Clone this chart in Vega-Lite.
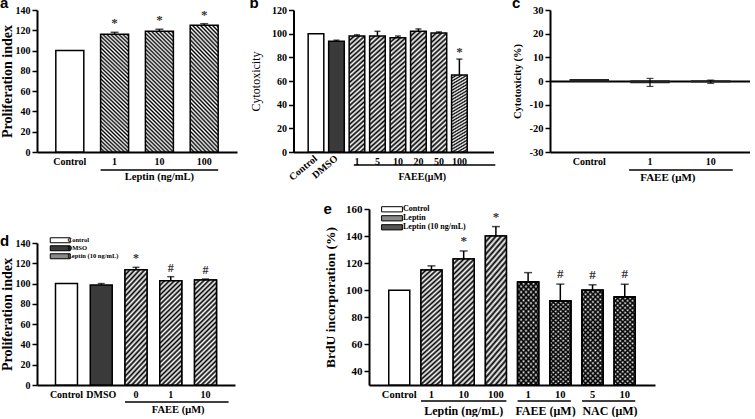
{
"$schema":"https://vega.github.io/schema/vega-lite/v6.json",
"background":"white",
"padding":{"left":0,"top":-4,"right":0,"bottom":0},
"spacing":18,
"resolve":{"scale":{"fill":"independent"},"legend":{"fill":"independent"}},
"vconcat":[
{"hconcat":[
{"width":200,"height":142,"title":{"text":"a","dy":10},
"layer":[
{"data":{"values":[{"cond":"Control","v":100,"grp":"Control"},{"cond":"1","v":116,"hi":118,"sig":"*","grp":"Leptin"},{"cond":"10","v":119,"hi":121,"sig":"*","grp":"Leptin"},{"cond":"100","v":125,"hi":126.5,"sig":"*","grp":"Leptin"}]},
"encoding":{"x":{"field":"cond","type":"nominal","scale":{"domain":["Control","1","10","100"],"paddingInner":0.375,"paddingOuter":0.42},"axis":{"title":null}},
"y":{"field":"v","type":"quantitative","scale":{"domain":[0,140],"nice":false},"axis":{"title":"Proliferation index","titleFontSize":14,"values":[0,20,40,60,80,100,120,140],"titlePadding":1,"labelOverlap":false}}},
"layer":[
{"transform":[{"filter":"datum.grp=='Control'"}],"mark":{"type":"bar","fill":"white","stroke":"black","strokeWidth":1.5}},
{"transform":[{"filter":"datum.grp!='Control'"}],"mark":{"type":"bar","stroke":"black","strokeWidth":1.5,"fill":{"gradient":"linear","x1":0,"y1":1,"x2":0.286,"y2":-0.247,"stops":[{"offset":0,"color":"#000"},{"offset":0.0125,"color":"#fff"},{"offset":0.025,"color":"#000"},{"offset":0.0375,"color":"#fff"},{"offset":0.05,"color":"#000"},{"offset":0.0625,"color":"#fff"},{"offset":0.075,"color":"#000"},{"offset":0.0875,"color":"#fff"},{"offset":0.1,"color":"#000"},{"offset":0.1125,"color":"#fff"},{"offset":0.125,"color":"#000"},{"offset":0.1375,"color":"#fff"},{"offset":0.15,"color":"#000"},{"offset":0.1625,"color":"#fff"},{"offset":0.175,"color":"#000"},{"offset":0.1875,"color":"#fff"},{"offset":0.2,"color":"#000"},{"offset":0.2125,"color":"#fff"},{"offset":0.225,"color":"#000"},{"offset":0.2375,"color":"#fff"},{"offset":0.25,"color":"#000"},{"offset":0.2625,"color":"#fff"},{"offset":0.275,"color":"#000"},{"offset":0.2875,"color":"#fff"},{"offset":0.3,"color":"#000"},{"offset":0.3125,"color":"#fff"},{"offset":0.325,"color":"#000"},{"offset":0.3375,"color":"#fff"},{"offset":0.35,"color":"#000"},{"offset":0.3625,"color":"#fff"},{"offset":0.375,"color":"#000"},{"offset":0.3875,"color":"#fff"},{"offset":0.4,"color":"#000"},{"offset":0.4125,"color":"#fff"},{"offset":0.425,"color":"#000"},{"offset":0.4375,"color":"#fff"},{"offset":0.45,"color":"#000"},{"offset":0.4625,"color":"#fff"},{"offset":0.475,"color":"#000"},{"offset":0.4875,"color":"#fff"},{"offset":0.5,"color":"#000"},{"offset":0.5125,"color":"#fff"},{"offset":0.525,"color":"#000"},{"offset":0.5375,"color":"#fff"},{"offset":0.55,"color":"#000"},{"offset":0.5625,"color":"#fff"},{"offset":0.575,"color":"#000"},{"offset":0.5875,"color":"#fff"},{"offset":0.6,"color":"#000"},{"offset":0.6125,"color":"#fff"},{"offset":0.625,"color":"#000"},{"offset":0.6375,"color":"#fff"},{"offset":0.65,"color":"#000"},{"offset":0.6625,"color":"#fff"},{"offset":0.675,"color":"#000"},{"offset":0.6875,"color":"#fff"},{"offset":0.7,"color":"#000"},{"offset":0.7125,"color":"#fff"},{"offset":0.725,"color":"#000"},{"offset":0.7375,"color":"#fff"},{"offset":0.75,"color":"#000"},{"offset":0.7625,"color":"#fff"},{"offset":0.775,"color":"#000"},{"offset":0.7875,"color":"#fff"},{"offset":0.8,"color":"#000"},{"offset":0.8125,"color":"#fff"},{"offset":0.825,"color":"#000"},{"offset":0.8375,"color":"#fff"},{"offset":0.85,"color":"#000"},{"offset":0.8625,"color":"#fff"},{"offset":0.875,"color":"#000"},{"offset":0.8875,"color":"#fff"},{"offset":0.9,"color":"#000"},{"offset":0.9125,"color":"#fff"},{"offset":0.925,"color":"#000"},{"offset":0.9375,"color":"#fff"},{"offset":0.95,"color":"#000"},{"offset":0.9625,"color":"#fff"},{"offset":0.975,"color":"#000"},{"offset":0.9875,"color":"#fff"},{"offset":1,"color":"#000"}]}}},
{"transform":[{"filter":"isValid(datum.hi)"}],"mark":{"type":"rule","color":"black","strokeWidth":1.5},"encoding":{"y2":{"field":"hi"}}},
{"transform":[{"filter":"isValid(datum.hi)"}],"mark":{"type":"tick","color":"black","size":8,"thickness":1.5},"encoding":{"y":{"field":"hi","type":"quantitative"}}},
{"transform":[{"filter":"isValid(datum.sig)"}],"mark":{"type":"text","fontSize":13,"baseline":"middle","dy":-9,"color":"#333"},"encoding":{"y":{"field":"hi","type":"quantitative"},"text":{"field":"sig"}}}
]},
{"data":{"values":[{"from":"1","to":"100","mid":"10","label":"Leptin (ng/mL)"}]},
"layer":[
{"mark":{"type":"rule","color":"black","strokeWidth":1.5},"encoding":{"x":{"field":"from","type":"nominal","bandPosition":0,"title":null},"x2":{"field":"to","bandPosition":1},"y":{"datum":-17.75,"axis":{"title":"Proliferation index","titleFontSize":14,"values":[0,20,40,60,80,100,120,140],"titlePadding":1,"labelOverlap":false}}}},
{"mark":{"type":"text","fontSize":10.5,"baseline":"middle"},"encoding":{"x":{"field":"mid","type":"nominal","bandPosition":0.5,"title":null},"y":{"datum":-25,"axis":{"title":"Proliferation index","titleFontSize":14,"values":[0,20,40,60,80,100,120,140],"titlePadding":1,"labelOverlap":false}},"text":{"field":"label"}}}
]}
]},
{"width":200,"height":142,"title":{"text":"b","dy":10},
"layer":[
{"data":{"values":[{"cond":"Control","v":100,"grp":"Control"},{"cond":"DMSO","v":93.5,"hi":94.5,"grp":"DMSO"},{"cond":"1","v":98,"hi":99,"grp":"FAEE"},{"cond":"5","v":98,"hi":102,"grp":"FAEE"},{"cond":"10","v":96.5,"hi":98,"grp":"FAEE"},{"cond":"20","v":102,"hi":104,"grp":"FAEE"},{"cond":"50","v":100.5,"hi":101.5,"grp":"FAEE"},{"cond":"100","v":65,"hi":78.5,"sig":"*","grp":"FAEE"}]},
"encoding":{"x":{"field":"cond","type":"nominal","scale":{"domain":["Control","DMSO","1","5","10","20","50","100"],"paddingInner":0.237,"paddingOuter":1.571,"align":0.358},"axis":{"title":null,"labelExpr":"indexof(['Control','DMSO'], datum.value) >= 0 ? '' : datum.label"}},
"y":{"field":"v","type":"quantitative","scale":{"domain":[0,120],"nice":false},"axis":{"title":"Cytotoxicity","titleFontWeight":"normal","titleFontSize":12,"titlePadding":9,"values":[0,20,40,60,80,100,120],"labelOverlap":false}}},
"layer":[
{"transform":[{"filter":"datum.grp=='Control'"}],"mark":{"type":"bar","fill":"white","stroke":"black","strokeWidth":1.5}},
{"transform":[{"filter":"datum.grp=='DMSO'"}],"mark":{"type":"bar","fill":"#3a3a3a","stroke":"black","strokeWidth":1.5}},
{"transform":[{"filter":"datum.grp=='FAEE'"}],"mark":{"type":"bar","stroke":"black","strokeWidth":1.5,"fill":{"gradient":"linear","x1":0,"y1":0,"x2":0.191,"y2":1.586,"stops":[{"offset":0,"color":"#000"},{"offset":0.0125,"color":"#fff"},{"offset":0.025,"color":"#000"},{"offset":0.0375,"color":"#fff"},{"offset":0.05,"color":"#000"},{"offset":0.0625,"color":"#fff"},{"offset":0.075,"color":"#000"},{"offset":0.0875,"color":"#fff"},{"offset":0.1,"color":"#000"},{"offset":0.1125,"color":"#fff"},{"offset":0.125,"color":"#000"},{"offset":0.1375,"color":"#fff"},{"offset":0.15,"color":"#000"},{"offset":0.1625,"color":"#fff"},{"offset":0.175,"color":"#000"},{"offset":0.1875,"color":"#fff"},{"offset":0.2,"color":"#000"},{"offset":0.2125,"color":"#fff"},{"offset":0.225,"color":"#000"},{"offset":0.2375,"color":"#fff"},{"offset":0.25,"color":"#000"},{"offset":0.2625,"color":"#fff"},{"offset":0.275,"color":"#000"},{"offset":0.2875,"color":"#fff"},{"offset":0.3,"color":"#000"},{"offset":0.3125,"color":"#fff"},{"offset":0.325,"color":"#000"},{"offset":0.3375,"color":"#fff"},{"offset":0.35,"color":"#000"},{"offset":0.3625,"color":"#fff"},{"offset":0.375,"color":"#000"},{"offset":0.3875,"color":"#fff"},{"offset":0.4,"color":"#000"},{"offset":0.4125,"color":"#fff"},{"offset":0.425,"color":"#000"},{"offset":0.4375,"color":"#fff"},{"offset":0.45,"color":"#000"},{"offset":0.4625,"color":"#fff"},{"offset":0.475,"color":"#000"},{"offset":0.4875,"color":"#fff"},{"offset":0.5,"color":"#000"},{"offset":0.5125,"color":"#fff"},{"offset":0.525,"color":"#000"},{"offset":0.5375,"color":"#fff"},{"offset":0.55,"color":"#000"},{"offset":0.5625,"color":"#fff"},{"offset":0.575,"color":"#000"},{"offset":0.5875,"color":"#fff"},{"offset":0.6,"color":"#000"},{"offset":0.6125,"color":"#fff"},{"offset":0.625,"color":"#000"},{"offset":0.6375,"color":"#fff"},{"offset":0.65,"color":"#000"},{"offset":0.6625,"color":"#fff"},{"offset":0.675,"color":"#000"},{"offset":0.6875,"color":"#fff"},{"offset":0.7,"color":"#000"},{"offset":0.7125,"color":"#fff"},{"offset":0.725,"color":"#000"},{"offset":0.7375,"color":"#fff"},{"offset":0.75,"color":"#000"},{"offset":0.7625,"color":"#fff"},{"offset":0.775,"color":"#000"},{"offset":0.7875,"color":"#fff"},{"offset":0.8,"color":"#000"},{"offset":0.8125,"color":"#fff"},{"offset":0.825,"color":"#000"},{"offset":0.8375,"color":"#fff"},{"offset":0.85,"color":"#000"},{"offset":0.8625,"color":"#fff"},{"offset":0.875,"color":"#000"},{"offset":0.8875,"color":"#fff"},{"offset":0.9,"color":"#000"},{"offset":0.9125,"color":"#fff"},{"offset":0.925,"color":"#000"},{"offset":0.9375,"color":"#fff"},{"offset":0.95,"color":"#000"},{"offset":0.9625,"color":"#fff"},{"offset":0.975,"color":"#000"},{"offset":0.9875,"color":"#fff"},{"offset":1,"color":"#000"}]}}},
{"transform":[{"filter":"isValid(datum.hi)"}],"mark":{"type":"rule","color":"black","strokeWidth":1.5},"encoding":{"y2":{"field":"hi"}}},
{"transform":[{"filter":"isValid(datum.hi)"}],"mark":{"type":"tick","color":"black","size":6,"thickness":1.5},"encoding":{"y":{"field":"hi","type":"quantitative"}}},
{"transform":[{"filter":"isValid(datum.sig)"}],"mark":{"type":"text","fontSize":13,"baseline":"middle","dy":-7,"color":"#333"},"encoding":{"y":{"field":"hi","type":"quantitative"},"text":{"field":"sig"}}}
]},
{"data":{"values":[{"from":"1","to":"100","mid":"20","label":"FAEE(μM)"}]},
"layer":[
{"mark":{"type":"rule","color":"black","strokeWidth":1.5},"encoding":{"x":{"field":"from","type":"nominal","bandPosition":0.3,"title":null},"x2":{"field":"to","bandPosition":2.8},"y":{"datum":-11,"axis":{"title":"Cytotoxicity","titleFontWeight":"normal","titleFontSize":12,"titlePadding":9,"values":[0,20,40,60,80,100,120],"labelOverlap":false}}}},
{"mark":{"type":"text","fontSize":10,"baseline":"middle"},"encoding":{"x":{"field":"mid","type":"nominal","bandPosition":0.75,"title":null},"y":{"datum":-21,"axis":{"title":"Cytotoxicity","titleFontWeight":"normal","titleFontSize":12,"titlePadding":9,"values":[0,20,40,60,80,100,120],"labelOverlap":false}},"text":{"field":"label"}}}
]},
{"data":{"values":[{"cond":"Control"},{"cond":"DMSO"}]},"mark":{"type":"text","fontSize":10,"angle":-40,"align":"right","baseline":"middle"},"encoding":{"x":{"field":"cond","type":"nominal","title":null},"y":{"datum":-4.5,"axis":{"title":"Cytotoxicity","titleFontWeight":"normal","titleFontSize":12,"titlePadding":9,"values":[0,20,40,60,80,100,120],"labelOverlap":false}},"text":{"field":"cond"}}}
]},
{"width":200,"height":142,"title":{"text":"c","dy":10},
"layer":[
{"data":{"values":[{"cond":"Control","v":0.5},{"cond":"1","v":-0.6,"lo":-2.3,"hi":1.1},{"cond":"10","v":-0.3,"lo":-1,"hi":0.4}]},
"encoding":{"x":{"field":"cond","type":"nominal","scale":{"domain":["Control","1","10"],"paddingInner":0.374,"paddingOuter":0.334},"axis":{"title":null}},
"y":{"field":"v","type":"quantitative","scale":{"domain":[-30,30],"nice":false},"axis":{"title":"Cytotoxicity (%)","titleFontSize":10.5,"titlePadding":7,"values":[-30,-20,-10,0,10,20,30],"labelExpr":"''+datum.value","labelFontSize":10.5,"labelOverlap":false,"grid":true,"gridColor":"black","gridWidth":2,"gridOpacity":{"condition":{"test":"datum.value === 0","value":1},"value":0}}}},
"layer":[
{"mark":{"type":"bar","fill":"white","stroke":"#222","strokeWidth":1.5}},
{"transform":[{"filter":"isValid(datum.hi)"}],"mark":{"type":"rule","color":"black","strokeWidth":1.2},"encoding":{"y":{"field":"lo","type":"quantitative"},"y2":{"field":"hi"}}},
{"transform":[{"filter":"isValid(datum.hi)"}],"mark":{"type":"tick","color":"black","size":7,"thickness":1.2},"encoding":{"y":{"field":"hi","type":"quantitative"}}},
{"transform":[{"filter":"isValid(datum.hi)"}],"mark":{"type":"tick","color":"black","size":7,"thickness":1.2},"encoding":{"y":{"field":"lo","type":"quantitative"}}}
]},
{"data":{"values":[{"from":"1","to":"10","label":"FAEE (μM)"}]},
"layer":[
{"mark":{"type":"rule","color":"black","strokeWidth":1.5},"encoding":{"x":{"field":"from","type":"nominal","bandPosition":-0.05,"title":null},"x2":{"field":"to","bandPosition":1.08},"y":{"datum":-37.6,"axis":{"title":"Cytotoxicity (%)","titleFontSize":10.5,"titlePadding":7,"values":[-30,-20,-10,0,10,20,30],"labelExpr":"''+datum.value","labelFontSize":10.5,"labelOverlap":false,"grid":true,"gridColor":"black","gridWidth":2,"gridOpacity":{"condition":{"test":"datum.value === 0","value":1},"value":0}}}}},
{"mark":{"type":"text","fontSize":11,"baseline":"middle"},"encoding":{"x":{"field":"from","type":"nominal","bandPosition":0.97,"title":null},"y":{"datum":-41,"axis":{"title":"Cytotoxicity (%)","titleFontSize":10.5,"titlePadding":7,"values":[-30,-20,-10,0,10,20,30],"labelExpr":"''+datum.value","labelFontSize":10.5,"labelOverlap":false,"grid":true,"gridColor":"black","gridWidth":2,"gridOpacity":{"condition":{"test":"datum.value === 0","value":1},"value":0}}},"text":{"field":"label"}}}
]}
]}
],"spacing":56.5,"bounds":"flush"},
{"hconcat":[
{"width":198,"height":176,"title":{"text":"d","dy":44},
"layer":[
{"data":{"values":[{"cond":"Control","v":100,"grp":"Control"},{"cond":"DMSO","v":98.6,"hi":100,"grp":"DMSO"},{"cond":"0","v":113.7,"hi":116,"sig":"*","grp":"Leptin (10 ng/mL)"},{"cond":"1","v":102.9,"hi":106.8,"sig":"#","grp":"Leptin (10 ng/mL)"},{"cond":"10","v":103.5,"hi":104.5,"sig":"#","grp":"Leptin (10 ng/mL)"}]},
"encoding":{"x":{"field":"cond","type":"nominal","scale":{"domain":["Control","DMSO","0","1","10"],"paddingInner":0.368,"paddingOuter":0.532},"axis":{"title":null}},
"y":{"field":"v","type":"quantitative","scale":{"domain":[0,140],"nice":false,"range":[176,34]},"axis":{"title":"Proliferation index","titleFontSize":14,"values":[0,20,40,60,80,100,120,140],"titlePadding":1,"labelOverlap":false}}},
"layer":[
{"mark":{"type":"bar","stroke":"black","strokeWidth":1.5},"encoding":{"fill":{"field":"grp","type":"nominal","scale":{"domain":["Control","DMSO","Leptin (10 ng/mL)"],"range":["white","#3a3a3a","#8a8a8a"]},"legend":{"title":null,"orient":"none","legendX":20,"legendY":28,"symbolType":"M-4,-1H4V1H-4Z","symbolSize":25,"symbolStrokeColor":"black","symbolStrokeWidth":1,"labelFontSize":6.5,"labelOffset":4,"rowPadding":-3.1,"padding":0}}}},
{"transform":[{"filter":"datum.grp=='Leptin (10 ng/mL)'"}],"mark":{"type":"bar","stroke":"black","strokeWidth":1.5,"fill":{"gradient":"linear","x1":0,"y1":0,"x2":0.365,"y2":1.775,"stops":[{"offset":0,"color":"#000"},{"offset":0.0125,"color":"#fff"},{"offset":0.025,"color":"#000"},{"offset":0.0375,"color":"#fff"},{"offset":0.05,"color":"#000"},{"offset":0.0625,"color":"#fff"},{"offset":0.075,"color":"#000"},{"offset":0.0875,"color":"#fff"},{"offset":0.1,"color":"#000"},{"offset":0.1125,"color":"#fff"},{"offset":0.125,"color":"#000"},{"offset":0.1375,"color":"#fff"},{"offset":0.15,"color":"#000"},{"offset":0.1625,"color":"#fff"},{"offset":0.175,"color":"#000"},{"offset":0.1875,"color":"#fff"},{"offset":0.2,"color":"#000"},{"offset":0.2125,"color":"#fff"},{"offset":0.225,"color":"#000"},{"offset":0.2375,"color":"#fff"},{"offset":0.25,"color":"#000"},{"offset":0.2625,"color":"#fff"},{"offset":0.275,"color":"#000"},{"offset":0.2875,"color":"#fff"},{"offset":0.3,"color":"#000"},{"offset":0.3125,"color":"#fff"},{"offset":0.325,"color":"#000"},{"offset":0.3375,"color":"#fff"},{"offset":0.35,"color":"#000"},{"offset":0.3625,"color":"#fff"},{"offset":0.375,"color":"#000"},{"offset":0.3875,"color":"#fff"},{"offset":0.4,"color":"#000"},{"offset":0.4125,"color":"#fff"},{"offset":0.425,"color":"#000"},{"offset":0.4375,"color":"#fff"},{"offset":0.45,"color":"#000"},{"offset":0.4625,"color":"#fff"},{"offset":0.475,"color":"#000"},{"offset":0.4875,"color":"#fff"},{"offset":0.5,"color":"#000"},{"offset":0.5125,"color":"#fff"},{"offset":0.525,"color":"#000"},{"offset":0.5375,"color":"#fff"},{"offset":0.55,"color":"#000"},{"offset":0.5625,"color":"#fff"},{"offset":0.575,"color":"#000"},{"offset":0.5875,"color":"#fff"},{"offset":0.6,"color":"#000"},{"offset":0.6125,"color":"#fff"},{"offset":0.625,"color":"#000"},{"offset":0.6375,"color":"#fff"},{"offset":0.65,"color":"#000"},{"offset":0.6625,"color":"#fff"},{"offset":0.675,"color":"#000"},{"offset":0.6875,"color":"#fff"},{"offset":0.7,"color":"#000"},{"offset":0.7125,"color":"#fff"},{"offset":0.725,"color":"#000"},{"offset":0.7375,"color":"#fff"},{"offset":0.75,"color":"#000"},{"offset":0.7625,"color":"#fff"},{"offset":0.775,"color":"#000"},{"offset":0.7875,"color":"#fff"},{"offset":0.8,"color":"#000"},{"offset":0.8125,"color":"#fff"},{"offset":0.825,"color":"#000"},{"offset":0.8375,"color":"#fff"},{"offset":0.85,"color":"#000"},{"offset":0.8625,"color":"#fff"},{"offset":0.875,"color":"#000"},{"offset":0.8875,"color":"#fff"},{"offset":0.9,"color":"#000"},{"offset":0.9125,"color":"#fff"},{"offset":0.925,"color":"#000"},{"offset":0.9375,"color":"#fff"},{"offset":0.95,"color":"#000"},{"offset":0.9625,"color":"#fff"},{"offset":0.975,"color":"#000"},{"offset":0.9875,"color":"#fff"},{"offset":1,"color":"#000"}]}}},
{"transform":[{"filter":"isValid(datum.hi)"}],"mark":{"type":"rule","color":"black","strokeWidth":1.5},"encoding":{"y2":{"field":"hi"}}},
{"transform":[{"filter":"isValid(datum.hi)"}],"mark":{"type":"tick","color":"black","size":7,"thickness":1.5},"encoding":{"y":{"field":"hi","type":"quantitative"}}},
{"transform":[{"filter":"isValid(datum.sig)"}],"mark":{"type":"text","fontSize":12,"baseline":"middle","dy":-9,"color":"#333"},"encoding":{"y":{"field":"hi","type":"quantitative"},"text":{"field":"sig"}}}
]},
{"data":{"values":[{"from":"0","to":"10","mid":"1","label":"FAEE (μM)"}]},
"layer":[
{"mark":{"type":"rule","color":"black","strokeWidth":1.5},"encoding":{"x":{"field":"from","type":"nominal","bandPosition":0,"title":null},"x2":{"field":"to","bandPosition":1.55},"y":{"datum":-16.8,"axis":{"title":"Proliferation index","titleFontSize":14,"values":[0,20,40,60,80,100,120,140],"titlePadding":1,"labelOverlap":false}}}},
{"mark":{"type":"text","fontSize":10.5,"baseline":"middle"},"encoding":{"x":{"field":"mid","type":"nominal","bandPosition":0.84,"title":null},"y":{"datum":-24.4,"axis":{"title":"Proliferation index","titleFontSize":14,"values":[0,20,40,60,80,100,120,140],"titlePadding":1,"labelOverlap":false}},"text":{"field":"label"}}}
]}
]},
{"width":286,"height":176,"title":{"text":"e","dy":18},
"layer":[
{"data":{"values":[{"cond":"Control","v":100,"grp":"Control"},{"cond":"L1","v":115,"hi":118,"grp":"Leptin"},{"cond":"L10","v":123,"hi":129,"sig":"*","grp":"Leptin"},{"cond":"L100","v":140,"hi":147,"sig":"*","grp":"Leptin"},{"cond":"F1","v":106,"hi":113,"grp":"Leptin (10 ng/mL)"},{"cond":"F10","v":92,"hi":104.5,"sig":"#","grp":"Leptin (10 ng/mL)"},{"cond":"N5","v":100,"hi":104,"sig":"#","grp":"Leptin (10 ng/mL)"},{"cond":"N10","v":95,"hi":104.5,"sig":"#","grp":"Leptin (10 ng/mL)"}]},
"encoding":{"x":{"field":"cond","type":"nominal","scale":{"domain":["Control","L1","L10","L100","F1","F10","N5","N10"],"paddingInner":0.348,"paddingOuter":0.613},"axis":{"title":null,"labelExpr":"datum.value == 'Control' ? 'Control' : substring(datum.value, 1)","labelFontSize":10.5}},
"y":{"field":"v","type":"quantitative","scale":{"domain":[30,160],"nice":false,"zero":false},"axis":{"title":"BrdU incorporation (%)","titleFontSize":13.5,"titlePadding":8,"labelFontSize":11,"values":[40,60,80,100,120,140,160],"labelOverlap":false}}},
"layer":[
{"mark":{"type":"bar","stroke":"black","strokeWidth":1.5},"encoding":{"y2":{"datum":30},"fill":{"field":"grp","type":"nominal","scale":{"domain":["Control","Leptin","Leptin (10 ng/mL)"],"range":["white","#8a8a8a","#555"]},"legend":{"title":null,"orient":"none","legendX":19,"legendY":-3.7,"symbolType":"M-4,-1H4V1H-4Z","symbolSize":27,"symbolStrokeColor":"black","symbolStrokeWidth":1,"labelFontSize":8,"labelOffset":7,"rowPadding":-1.2,"padding":0}}}},
{"transform":[{"filter":"datum.grp=='Leptin'"}],"mark":{"type":"bar","stroke":"black","strokeWidth":1.5,"fill":{"gradient":"linear","x1":0,"y1":0,"x2":0.265,"y2":1.614,"stops":[{"offset":0,"color":"#000"},{"offset":0.0125,"color":"#fff"},{"offset":0.025,"color":"#000"},{"offset":0.0375,"color":"#fff"},{"offset":0.05,"color":"#000"},{"offset":0.0625,"color":"#fff"},{"offset":0.075,"color":"#000"},{"offset":0.0875,"color":"#fff"},{"offset":0.1,"color":"#000"},{"offset":0.1125,"color":"#fff"},{"offset":0.125,"color":"#000"},{"offset":0.1375,"color":"#fff"},{"offset":0.15,"color":"#000"},{"offset":0.1625,"color":"#fff"},{"offset":0.175,"color":"#000"},{"offset":0.1875,"color":"#fff"},{"offset":0.2,"color":"#000"},{"offset":0.2125,"color":"#fff"},{"offset":0.225,"color":"#000"},{"offset":0.2375,"color":"#fff"},{"offset":0.25,"color":"#000"},{"offset":0.2625,"color":"#fff"},{"offset":0.275,"color":"#000"},{"offset":0.2875,"color":"#fff"},{"offset":0.3,"color":"#000"},{"offset":0.3125,"color":"#fff"},{"offset":0.325,"color":"#000"},{"offset":0.3375,"color":"#fff"},{"offset":0.35,"color":"#000"},{"offset":0.3625,"color":"#fff"},{"offset":0.375,"color":"#000"},{"offset":0.3875,"color":"#fff"},{"offset":0.4,"color":"#000"},{"offset":0.4125,"color":"#fff"},{"offset":0.425,"color":"#000"},{"offset":0.4375,"color":"#fff"},{"offset":0.45,"color":"#000"},{"offset":0.4625,"color":"#fff"},{"offset":0.475,"color":"#000"},{"offset":0.4875,"color":"#fff"},{"offset":0.5,"color":"#000"},{"offset":0.5125,"color":"#fff"},{"offset":0.525,"color":"#000"},{"offset":0.5375,"color":"#fff"},{"offset":0.55,"color":"#000"},{"offset":0.5625,"color":"#fff"},{"offset":0.575,"color":"#000"},{"offset":0.5875,"color":"#fff"},{"offset":0.6,"color":"#000"},{"offset":0.6125,"color":"#fff"},{"offset":0.625,"color":"#000"},{"offset":0.6375,"color":"#fff"},{"offset":0.65,"color":"#000"},{"offset":0.6625,"color":"#fff"},{"offset":0.675,"color":"#000"},{"offset":0.6875,"color":"#fff"},{"offset":0.7,"color":"#000"},{"offset":0.7125,"color":"#fff"},{"offset":0.725,"color":"#000"},{"offset":0.7375,"color":"#fff"},{"offset":0.75,"color":"#000"},{"offset":0.7625,"color":"#fff"},{"offset":0.775,"color":"#000"},{"offset":0.7875,"color":"#fff"},{"offset":0.8,"color":"#000"},{"offset":0.8125,"color":"#fff"},{"offset":0.825,"color":"#000"},{"offset":0.8375,"color":"#fff"},{"offset":0.85,"color":"#000"},{"offset":0.8625,"color":"#fff"},{"offset":0.875,"color":"#000"},{"offset":0.8875,"color":"#fff"},{"offset":0.9,"color":"#000"},{"offset":0.9125,"color":"#fff"},{"offset":0.925,"color":"#000"},{"offset":0.9375,"color":"#fff"},{"offset":0.95,"color":"#000"},{"offset":0.9625,"color":"#fff"},{"offset":0.975,"color":"#000"},{"offset":0.9875,"color":"#fff"},{"offset":1,"color":"#000"}]}},"encoding":{"y2":{"datum":30}}},
{"transform":[{"filter":"datum.grp=='Leptin (10 ng/mL)'"}],"mark":{"type":"bar","stroke":"black","strokeWidth":1.5,"fill":{"gradient":"linear","x1":0,"y1":0,"x2":0.467,"y2":2.045,"stops":[{"offset":0,"color":"#000"},{"offset":0.0125,"color":"#fff"},{"offset":0.025,"color":"#000"},{"offset":0.0375,"color":"#fff"},{"offset":0.05,"color":"#000"},{"offset":0.0625,"color":"#fff"},{"offset":0.075,"color":"#000"},{"offset":0.0875,"color":"#fff"},{"offset":0.1,"color":"#000"},{"offset":0.1125,"color":"#fff"},{"offset":0.125,"color":"#000"},{"offset":0.1375,"color":"#fff"},{"offset":0.15,"color":"#000"},{"offset":0.1625,"color":"#fff"},{"offset":0.175,"color":"#000"},{"offset":0.1875,"color":"#fff"},{"offset":0.2,"color":"#000"},{"offset":0.2125,"color":"#fff"},{"offset":0.225,"color":"#000"},{"offset":0.2375,"color":"#fff"},{"offset":0.25,"color":"#000"},{"offset":0.2625,"color":"#fff"},{"offset":0.275,"color":"#000"},{"offset":0.2875,"color":"#fff"},{"offset":0.3,"color":"#000"},{"offset":0.3125,"color":"#fff"},{"offset":0.325,"color":"#000"},{"offset":0.3375,"color":"#fff"},{"offset":0.35,"color":"#000"},{"offset":0.3625,"color":"#fff"},{"offset":0.375,"color":"#000"},{"offset":0.3875,"color":"#fff"},{"offset":0.4,"color":"#000"},{"offset":0.4125,"color":"#fff"},{"offset":0.425,"color":"#000"},{"offset":0.4375,"color":"#fff"},{"offset":0.45,"color":"#000"},{"offset":0.4625,"color":"#fff"},{"offset":0.475,"color":"#000"},{"offset":0.4875,"color":"#fff"},{"offset":0.5,"color":"#000"},{"offset":0.5125,"color":"#fff"},{"offset":0.525,"color":"#000"},{"offset":0.5375,"color":"#fff"},{"offset":0.55,"color":"#000"},{"offset":0.5625,"color":"#fff"},{"offset":0.575,"color":"#000"},{"offset":0.5875,"color":"#fff"},{"offset":0.6,"color":"#000"},{"offset":0.6125,"color":"#fff"},{"offset":0.625,"color":"#000"},{"offset":0.6375,"color":"#fff"},{"offset":0.65,"color":"#000"},{"offset":0.6625,"color":"#fff"},{"offset":0.675,"color":"#000"},{"offset":0.6875,"color":"#fff"},{"offset":0.7,"color":"#000"},{"offset":0.7125,"color":"#fff"},{"offset":0.725,"color":"#000"},{"offset":0.7375,"color":"#fff"},{"offset":0.75,"color":"#000"},{"offset":0.7625,"color":"#fff"},{"offset":0.775,"color":"#000"},{"offset":0.7875,"color":"#fff"},{"offset":0.8,"color":"#000"},{"offset":0.8125,"color":"#fff"},{"offset":0.825,"color":"#000"},{"offset":0.8375,"color":"#fff"},{"offset":0.85,"color":"#000"},{"offset":0.8625,"color":"#fff"},{"offset":0.875,"color":"#000"},{"offset":0.8875,"color":"#fff"},{"offset":0.9,"color":"#000"},{"offset":0.9125,"color":"#fff"},{"offset":0.925,"color":"#000"},{"offset":0.9375,"color":"#fff"},{"offset":0.95,"color":"#000"},{"offset":0.9625,"color":"#fff"},{"offset":0.975,"color":"#000"},{"offset":0.9875,"color":"#fff"},{"offset":1,"color":"#000"}]}},"encoding":{"y2":{"datum":30}}},
{"transform":[{"filter":"datum.grp=='Leptin (10 ng/mL)'"}],"mark":{"type":"bar","stroke":"black","strokeWidth":1.5,"fill":{"gradient":"linear","x1":0,"y1":1,"x2":0.467,"y2":-1.045,"stops":[{"offset":0,"color":"#000"},{"offset":0.0125,"color":"rgba(0,0,0,0)"},{"offset":0.025,"color":"#000"},{"offset":0.0375,"color":"rgba(0,0,0,0)"},{"offset":0.05,"color":"#000"},{"offset":0.0625,"color":"rgba(0,0,0,0)"},{"offset":0.075,"color":"#000"},{"offset":0.0875,"color":"rgba(0,0,0,0)"},{"offset":0.1,"color":"#000"},{"offset":0.1125,"color":"rgba(0,0,0,0)"},{"offset":0.125,"color":"#000"},{"offset":0.1375,"color":"rgba(0,0,0,0)"},{"offset":0.15,"color":"#000"},{"offset":0.1625,"color":"rgba(0,0,0,0)"},{"offset":0.175,"color":"#000"},{"offset":0.1875,"color":"rgba(0,0,0,0)"},{"offset":0.2,"color":"#000"},{"offset":0.2125,"color":"rgba(0,0,0,0)"},{"offset":0.225,"color":"#000"},{"offset":0.2375,"color":"rgba(0,0,0,0)"},{"offset":0.25,"color":"#000"},{"offset":0.2625,"color":"rgba(0,0,0,0)"},{"offset":0.275,"color":"#000"},{"offset":0.2875,"color":"rgba(0,0,0,0)"},{"offset":0.3,"color":"#000"},{"offset":0.3125,"color":"rgba(0,0,0,0)"},{"offset":0.325,"color":"#000"},{"offset":0.3375,"color":"rgba(0,0,0,0)"},{"offset":0.35,"color":"#000"},{"offset":0.3625,"color":"rgba(0,0,0,0)"},{"offset":0.375,"color":"#000"},{"offset":0.3875,"color":"rgba(0,0,0,0)"},{"offset":0.4,"color":"#000"},{"offset":0.4125,"color":"rgba(0,0,0,0)"},{"offset":0.425,"color":"#000"},{"offset":0.4375,"color":"rgba(0,0,0,0)"},{"offset":0.45,"color":"#000"},{"offset":0.4625,"color":"rgba(0,0,0,0)"},{"offset":0.475,"color":"#000"},{"offset":0.4875,"color":"rgba(0,0,0,0)"},{"offset":0.5,"color":"#000"},{"offset":0.5125,"color":"rgba(0,0,0,0)"},{"offset":0.525,"color":"#000"},{"offset":0.5375,"color":"rgba(0,0,0,0)"},{"offset":0.55,"color":"#000"},{"offset":0.5625,"color":"rgba(0,0,0,0)"},{"offset":0.575,"color":"#000"},{"offset":0.5875,"color":"rgba(0,0,0,0)"},{"offset":0.6,"color":"#000"},{"offset":0.6125,"color":"rgba(0,0,0,0)"},{"offset":0.625,"color":"#000"},{"offset":0.6375,"color":"rgba(0,0,0,0)"},{"offset":0.65,"color":"#000"},{"offset":0.6625,"color":"rgba(0,0,0,0)"},{"offset":0.675,"color":"#000"},{"offset":0.6875,"color":"rgba(0,0,0,0)"},{"offset":0.7,"color":"#000"},{"offset":0.7125,"color":"rgba(0,0,0,0)"},{"offset":0.725,"color":"#000"},{"offset":0.7375,"color":"rgba(0,0,0,0)"},{"offset":0.75,"color":"#000"},{"offset":0.7625,"color":"rgba(0,0,0,0)"},{"offset":0.775,"color":"#000"},{"offset":0.7875,"color":"rgba(0,0,0,0)"},{"offset":0.8,"color":"#000"},{"offset":0.8125,"color":"rgba(0,0,0,0)"},{"offset":0.825,"color":"#000"},{"offset":0.8375,"color":"rgba(0,0,0,0)"},{"offset":0.85,"color":"#000"},{"offset":0.8625,"color":"rgba(0,0,0,0)"},{"offset":0.875,"color":"#000"},{"offset":0.8875,"color":"rgba(0,0,0,0)"},{"offset":0.9,"color":"#000"},{"offset":0.9125,"color":"rgba(0,0,0,0)"},{"offset":0.925,"color":"#000"},{"offset":0.9375,"color":"rgba(0,0,0,0)"},{"offset":0.95,"color":"#000"},{"offset":0.9625,"color":"rgba(0,0,0,0)"},{"offset":0.975,"color":"#000"},{"offset":0.9875,"color":"rgba(0,0,0,0)"},{"offset":1,"color":"#000"}]}},"encoding":{"y2":{"datum":30}}},
{"transform":[{"filter":"isValid(datum.hi)"}],"mark":{"type":"rule","color":"black","strokeWidth":1.5},"encoding":{"y2":{"field":"hi"}}},
{"transform":[{"filter":"isValid(datum.hi)"}],"mark":{"type":"tick","color":"black","size":8,"thickness":1.5},"encoding":{"y":{"field":"hi","type":"quantitative"}}},
{"transform":[{"filter":"isValid(datum.sig)"}],"mark":{"type":"text","fontSize":13,"baseline":"middle","dy":-10,"color":"#333"},"encoding":{"y":{"field":"hi","type":"quantitative"},"text":{"field":"sig"}}}
]},
{"data":{"values":[{"from":"L1","to":"L100"},{"from":"F1","to":"F10"},{"from":"N5","to":"N10"}]},"mark":{"type":"rule","color":"black","strokeWidth":1.5},"encoding":{"x":{"field":"from","type":"nominal","bandPosition":0,"title":null},"x2":{"field":"to","bandPosition":1},"y":{"datum":18.2,"axis":{"title":"BrdU incorporation (%)","titleFontSize":13.5,"titlePadding":8,"labelFontSize":11,"values":[40,60,80,100,120,140,160],"labelOverlap":false}}}},
{"data":{"values":[{"mid":"L10","label":"Leptin (ng/mL)"}]},"mark":{"type":"text","fontSize":12,"baseline":"middle"},"encoding":{"x":{"field":"mid","type":"nominal","bandPosition":0.5,"title":null},"y":{"datum":10.8,"axis":{"title":"BrdU incorporation (%)","titleFontSize":13.5,"titlePadding":8,"labelFontSize":11,"values":[40,60,80,100,120,140,160],"labelOverlap":false}},"text":{"field":"label"}}},
{"data":{"values":[{"mid":"F1","label":"FAEE (μM)"},{"mid":"N5","label":"NAC (μM)"}]},"mark":{"type":"text","fontSize":12,"baseline":"middle"},"encoding":{"x":{"field":"mid","type":"nominal","bandPosition":1.33,"title":null},"y":{"datum":10.8,"axis":{"title":"BrdU incorporation (%)","titleFontSize":13.5,"titlePadding":8,"labelFontSize":11,"values":[40,60,80,100,120,140,160],"labelOverlap":false}},"text":{"field":"label"}}}
]}
],"spacing":134,"bounds":"flush","resolve":{"scale":{"fill":"independent"},"legend":{"fill":"independent"}}}
],
"config":{
"view":{"stroke":null},
"font":"Liberation Serif",
"text":{"font":"Liberation Serif","fontWeight":"bold"},
"axis":{"domainColor":"#000","domainWidth":2,"tickColor":"#000","tickWidth":1.5,"tickSize":5,"labelFont":"Liberation Serif","labelFontWeight":"bold","labelFontSize":10,"labelColor":"#000","titleFont":"Liberation Serif","titleFontWeight":"bold","titleColor":"#000","grid":false,"labelPadding":2,"labelOverlap":false},
"axisX":{"ticks":false,"labelPadding":4,"labelAngle":0},
"legend":{"labelFont":"Liberation Serif","labelFontWeight":"bold","labelColor":"#000"},
"title":{"font":"Liberation Sans","fontWeight":"bold","fontSize":15,"anchor":"start","frame":"bounds","color":"#000","offset":0}
}
}
